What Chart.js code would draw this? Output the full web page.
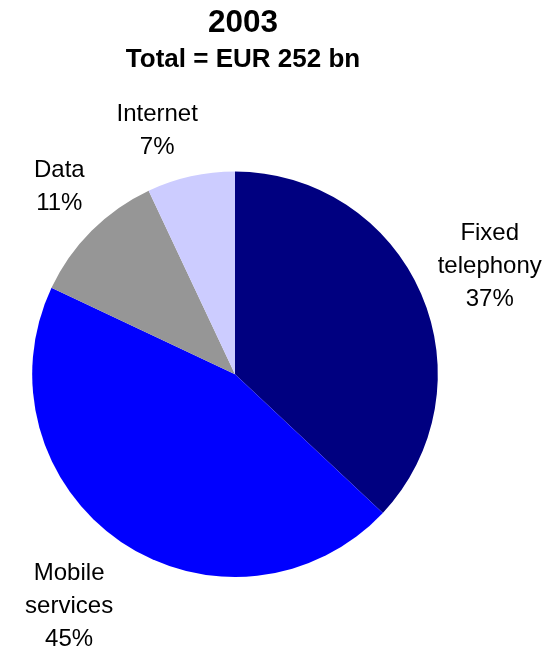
<!DOCTYPE html>
<html>
<head>
<meta charset="utf-8">
<script src="https://cdn.jsdelivr.net/npm/chart.js@4.4.1/dist/chart.umd.min.js"></script>
<style>
  html, body { margin: 0; padding: 0; background: #ffffff; }
  #wrap { position: relative; width: 546px; height: 651px; }
</style>
</head>
<body>
<div id="wrap"><canvas id="c" width="546" height="651"></canvas></div>
<script>
const titleText = "2003";
const subtitleText = "Total = EUR 252 bn";
const categories = [["Fixed", "telephony"], ["Mobile", "services"], ["Data"], ["Internet"]];
const shares = [37, 45, 11, 7];
const sliceColors = ["#000080", "#0000FF", "#969696", "#CCCCFF"];

const outerLabels = {
  id: "outerLabels",
  afterDatasetsDraw(chart, args, opts) {
    const ctx = chart.ctx;
    const meta = chart.getDatasetMeta(0);
    ctx.save();
    ctx.font = opts.font;
    ctx.fillStyle = opts.color;
    ctx.textAlign = "center";
    ctx.textBaseline = "middle";
    meta.data.forEach((arc, i) => {
      const p = arc.getProps(["x", "y", "startAngle", "endAngle", "outerRadius"], true);
      const mid = (p.startAngle + p.endAngle) / 2 + opts.angleShift[i] * Math.PI / 180;
      const r = p.outerRadius * opts.radius[i];
      const cx = p.x + Math.cos(mid) * r;
      const cy = p.y + Math.sin(mid) * r;
      const lines = categories[i].concat([shares[i] + "%"]);
      const n = lines.length;
      lines.forEach((t, k) => {
        ctx.fillText(t, cx, cy + (k - (n - 1) / 2) * opts.lineHeight);
      });
    });
    ctx.restore();
  }
};

// empty layout box on the right so the pie sits left of the title's centre
const rightSpacer = {
  id: "rightSpacer",
  beforeInit(chart) {
    const w = 16;
    const box = {
      position: "right", fullSize: false, weight: 0, options: {},
      width: 0, height: 0, left: 0, top: 0, right: 0, bottom: 0,
      isHorizontal() { return false; },
      update(maxWidth, maxHeight) {
        this.width = w; this.height = maxHeight;
        return { width: w, height: maxHeight };
      },
      draw() {}
    };
    Chart.layouts.addBox(chart, box);
  }
};

new Chart(document.getElementById("c"), {
  type: "pie",
  data: {
    labels: categories.map(c => c.join(" ")),
    datasets: [{
      data: shares,
      backgroundColor: sliceColors,
      borderWidth: 0
    }]
  },
  options: {
    responsive: false,
    animation: false,
    layout: { padding: { left: 32, right: 92, top: 0, bottom: 74 } },
    plugins: {
      legend: { display: false },
      tooltip: { enabled: false },
      title: {
        display: true,
        text: titleText,
        color: "#000000",
        font: { family: "'Liberation Sans', Arial, sans-serif", size: 31.5, weight: "bold" },
        padding: { top: 4.6, bottom: 0 }
      },
      subtitle: {
        display: true,
        text: subtitleText,
        color: "#000000",
        font: { family: "'Liberation Sans', Arial, sans-serif", size: 26, weight: "bold" },
        padding: { top: 2.2, bottom: 95.6 }
      },
      outerLabels: {
        font: "24px 'Liberation Sans', Arial, sans-serif",
        color: "#000000",
        lineHeight: 33,
        radius: [1.364, 1.405, 1.268, 1.262],
        angleShift: [0.45, 1.4, 1.9, -5.1]
      }
    }
  },
  plugins: [outerLabels, rightSpacer]
});
</script>
</body>
</html>
